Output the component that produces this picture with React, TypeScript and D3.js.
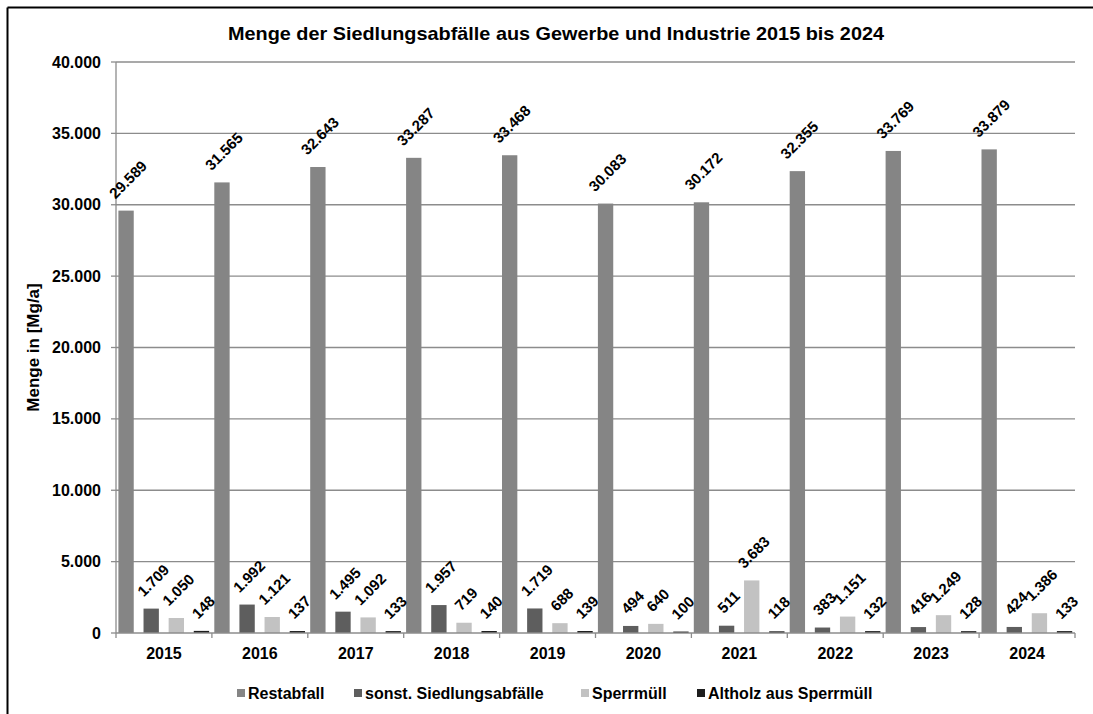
import React from "react";
import * as d3 from "d3";

const years = ["2015", "2016", "2017", "2018", "2019", "2020", "2021", "2022", "2023", "2024"];
const restabfall = [29589, 31565, 32643, 33287, 33468, 30083, 30172, 32355, 33769, 33879];
const sonstige = [1709, 1992, 1495, 1957, 1719, 494, 511, 383, 416, 424];
const sperrmuell = [1050, 1121, 1092, 719, 688, 640, 3683, 1151, 1249, 1386];
const altholz = [148, 137, 133, 140, 139, 100, 118, 132, 128, 133];
const seriesNames = ["Restabfall", "sonst. Siedlungsabfälle", "Sperrmüll", "Altholz aus Sperrmüll"];
const seriesColors = ["#858585", "#5e5e5e", "#c2c2c2", "#1e1e1e"];
const yTicks = [0, 5000, 10000, 15000, 20000, 25000, 30000, 35000, 40000];
const title = "Menge der Siedlungsabfälle aus Gewerbe und Industrie 2015 bis 2024";
const yTitle = "Menge in [Mg/a]";

const W = 1093;
const H = 714;
const FONT = "'Liberation Sans', Arial, Helvetica, sans-serif";

const de = d3.formatLocale({ decimal: ",", thousands: ".", grouping: [3], currency: ["", " €"] });
const fmt = de.format(",d");

export default function App() {
  const series = [restabfall, sonstige, sperrmuell, altholz];
  const left = 116, right = 1075, top = 62, bottom = 633;
  const x = d3.scaleBand<string>().domain(years).range([left, right]).paddingInner(0).paddingOuter(0);
  const y = d3.scaleLinear().domain([0, 40000]).range([bottom, top]);
  const cw = x.bandwidth();
  const barW = cw * 0.16;
  const step = cw * 0.262;
  const off = cw * 0.025;

  const LFS = 15;
  const textWidth = (s: string) => {
    let w = 0;
    for (const c of s) w += c === "." ? 0.278 * LFS : 0.556 * LFS;
    return w;
  };

  const legendX = [237, 354, 581, 697];

  return (
    <svg width={W} height={H} style={{ position: "absolute", left: 0, top: 0, background: "#fff" }} fontFamily={FONT}>
      <rect x={0} y={0} width={W} height={H} fill="#fff" />
      {/* outer frame (only top & left visible) */}
      <line x1={7.5} y1={7.5} x2={W} y2={7.5} stroke="#000" strokeWidth={2} />
      <line x1={7.5} y1={7.5} x2={7.5} y2={H} stroke="#000" strokeWidth={2} />

      <text x={228} y={40} fontSize={18.5} fontWeight="bold" fill="#000" textLength={656} lengthAdjust="spacingAndGlyphs">
        {title}
      </text>

      {/* gridlines */}
      {yTicks.map((t) => (
        <g key={t}>
          {t > 0 && (
            <line x1={left} x2={right} y1={y(t)} y2={y(t)} stroke="#8c8c8c" strokeWidth={1.3} />
          )}
          <line x1={left - 5} x2={left} y1={y(t)} y2={y(t)} stroke="#8c8c8c" strokeWidth={1.3} />
          <text x={101} y={y(t)} dy="0.35em" textAnchor="end" fontSize={16} fontWeight="bold" fill="#000">
            {fmt(t)}
          </text>
        </g>
      ))}
      <line x1={left} x2={left} y1={top} y2={bottom} stroke="#8c8c8c" strokeWidth={1.3} />

      {/* bars */}
      {years.map((yr, i) => (
        <g key={yr}>
          {series.map((s, k) => {
            const bx = (x(yr) as number) + off + k * step;
            const by = y(s[i]);
            return (
              <rect key={k} x={bx} y={by} width={barW} height={bottom - by} fill={seriesColors[k]} />
            );
          })}
        </g>
      ))}

      {/* x axis */}
      <line x1={left} x2={right} y1={bottom} y2={bottom} stroke="#8c8c8c" strokeWidth={1.3} />
      {[...years.map((yr) => x(yr) as number), right].map((v, i) => (
        <line key={i} x1={v} x2={v} y1={bottom} y2={bottom + 5} stroke="#8c8c8c" strokeWidth={1.3} />
      ))}
      {years.map((yr) => (
        <text key={yr} x={(x(yr) as number) + cw / 2} y={653} dy="0.35em" textAnchor="middle" fontSize={16} fontWeight="bold" fill="#000">
          {yr}
        </text>
      ))}

      {/* labels */}
      {years.map((yr, i) => (
        <g key={"l" + yr}>
          {series.map((s, k) => {
            const cx = (x(yr) as number) + off + k * step + barW / 2 + 2;
            const label = fmt(s[i]);
            const half = (textWidth(label) + 11) / Math.SQRT2 / 2;
            const cy = y(s[i]) - 11 - half;
            return (
              <text
                key={k}
                transform={`translate(${cx},${cy}) rotate(-45)`}
                textAnchor="middle"
                dy="0.35em"
                fontSize={LFS}
                fontWeight="bold"
                fill="#000"
              >
                {label}
              </text>
            );
          })}
        </g>
      ))}

      {/* y title */}
      <text transform={`translate(33,${(top + bottom) / 2}) rotate(-90)`} textAnchor="middle" dy="0.35em" fontSize={17} fontWeight="bold" fill="#000">
        {yTitle}
      </text>

      {/* legend */}
      {seriesNames.map((n, k) => (
        <g key={n}>
          <rect x={legendX[k]} y={689} width={8} height={8} fill={seriesColors[k]} />
          <text x={legendX[k] + 11} y={693} dy="0.35em" fontSize={16} fontWeight="bold" fill="#000">
            {n}
          </text>
        </g>
      ))}
    </svg>
  );
}
